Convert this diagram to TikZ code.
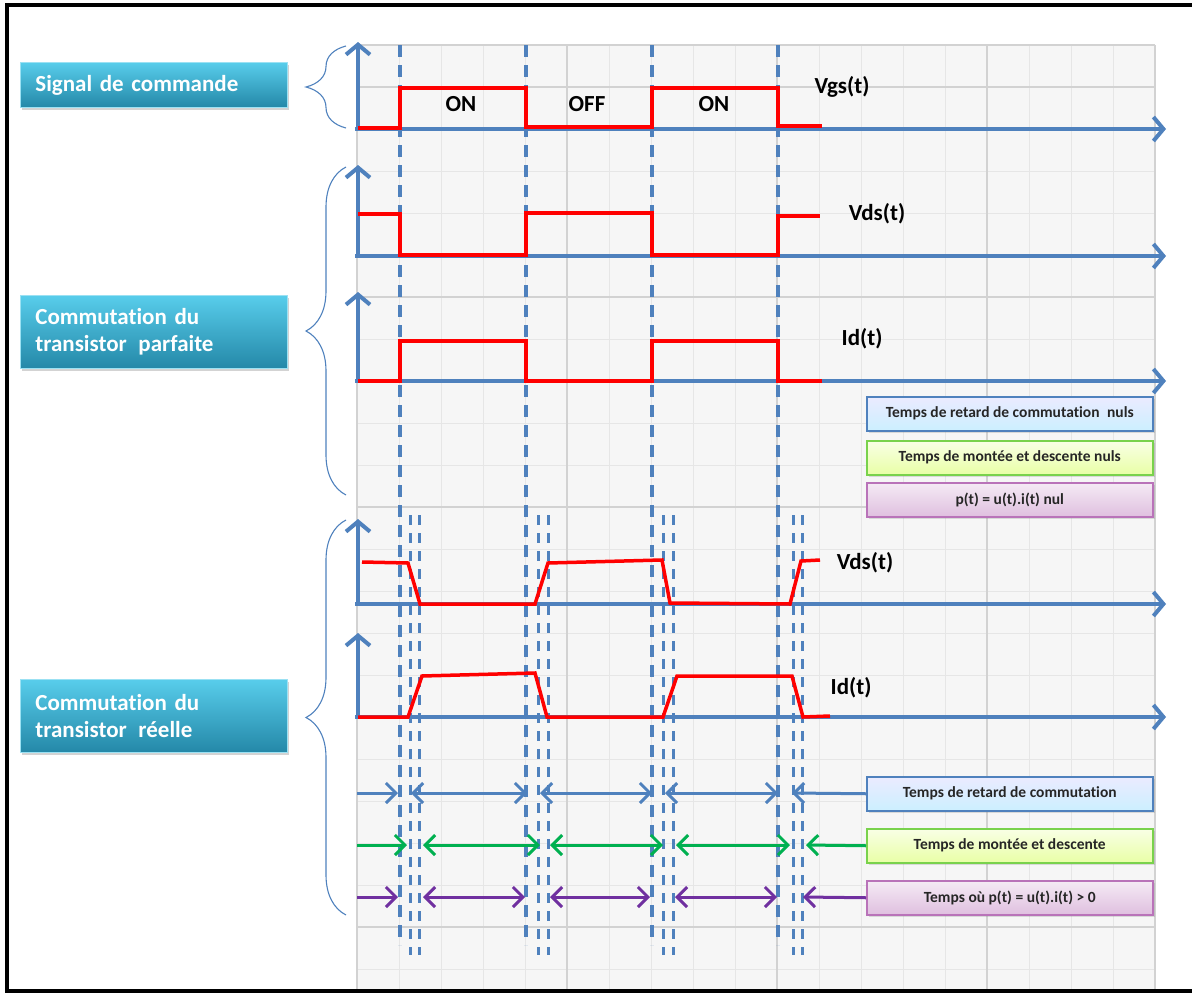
\documentclass[tikz,border=0pt]{standalone}
\usepackage{fontspec}
\setmainfont{Carlito}[Ligatures=NoCommon]
\usepackage{tikz}
\usetikzlibrary{arrows.meta,calc,positioning,decorations.pathreplacing,shadows}
\definecolor{axblue}{HTML}{4F81BD}
\definecolor{sigred}{HTML}{FF0000}
\definecolor{tgreen}{HTML}{00B050}
\definecolor{tpurple}{HTML}{7030A0}
\definecolor{gridmin}{HTML}{E6E6E6}
\definecolor{gridmaj}{HTML}{D2D2D2}
\definecolor{gridbg}{HTML}{F6F6F6}
\definecolor{tealtop}{HTML}{58CDEB}
\definecolor{tealbot}{HTML}{2488A8}
\tikzset{
  taxis/.style={axblue,line width=4pt,-{Straight Barb[length=10pt,width=24pt]}},
  sig/.style={sigred,line width=3.5pt,line join=miter},
  tline/.style={axblue,line width=3.2pt,dash pattern=on 12pt off 8pt},
  tpair/.style={axblue,line width=3pt,dash pattern=on 10pt off 8pt},
  sparr/.style={line width=3pt,{Straight Barb[length=10pt,width=20pt]}-{Straight Barb[length=10pt,width=20pt]}},
  onearr/.style={line width=3pt,-{Straight Barb[length=10pt,width=20pt]}},
  brc/.style={axblue,line width=1.1pt,decorate,decoration={brace,amplitude=40pt}},
  gmin/.style={gridmin,line width=1pt},
  gmaj/.style={gridmaj,line width=1.6pt},
  titlebox/.style={anchor=north west,top color=tealtop,bottom color=tealbot,
    draw=tealtop!60!white,line width=0.8pt,minimum width=267pt,text width=237pt,
    inner xsep=15pt,align=left,text=white,font=\fontsize{23}{27}\selectfont\bfseries,
    drop shadow={opacity=0.35,shadow xshift=2pt,shadow yshift=-3pt}},
  legbox/.style={anchor=north west,minimum width=286pt,minimum height=34pt,
    line width=1.5pt,text=black!85,font=\fontsize{15.5}{18}\selectfont\bfseries,
    drop shadow={opacity=0.25,shadow xshift=2pt,shadow yshift=-2pt}},
  legblue/.style={legbox,draw=axblue,top color=blue!8!white,bottom color=blue!30!cyan!20!white},
  leggreen/.style={legbox,draw=green!50!olive!70!white,top color=lime!10!white,bottom color=lime!35!white},
  legpurple/.style={legbox,draw=violet!55!white,top color=violet!8!white,bottom color=violet!25!white},
  siglbl/.style={font=\fontsize{23}{27}\selectfont\bfseries},
}

\begin{document}
\begin{tikzpicture}[x=1pt,y=-1pt]
\useasboundingbox (0,0) rectangle (1192,993);
% grid background
\fill[gridbg] (357,45) rectangle (1155,993);
\foreach \k in {0,...,19} \draw[gmin] ({357+42*\k},45) -- ({357+42*\k},993);
\foreach \k in {0,...,22} \draw[gmin] (357,{45+42*\k}) -- (1155,{45+42*\k});
\foreach \x in {357,567,777,987,1155} \draw[gmaj] (\x,45) -- (\x,993);
\foreach \y in {45,87,297,507,717,927} \draw[gmaj] (357,\y) -- (1155,\y);
% frame
\draw[black,line width=4pt] (7,5) rectangle (1196,991);

% left titles and braces
\node[titlebox,minimum height=45pt] (tcmd) at (20,62) {Signal de commande};
\node[titlebox,minimum height=73pt] (tparf) at (20,295) {Commutation du\\transistor\hspace{4pt} parfaite};
\node[titlebox,minimum height=73pt] (treel) at (20,679) {Commutation du\\transistor\hspace{4pt} réelle};
\draw[brc] (346,128) -- (346,46);
\draw[brc] (346,495) -- (346,167);
\draw[brc] (346,915) -- (346,520);

% switching instants
\foreach \x in {400,526,652,778} \draw[tline] (\x,45) -- (\x,945);
\foreach \x in {410,419,538,548,663,673,793,802} \draw[tpair] (\x,515) -- (\x,955);

% axes
\foreach \y/\t in {129/42,256/165,381/292,604/519,717/633} {
  \draw[taxis] (355,\y) -- (1166,\y);
  \draw[taxis] (358,\y) -- (358,\t);
}

% ideal signals
\draw[sig] (358,128) -- (400,128) -- (400,88) -- (526,88) -- (526,127) -- (652,127)
  -- (652,88) -- (778,88) -- (778,126) -- (822,126);
\draw[sig] (358,214) -- (400,214) -- (400,255) -- (526,255) -- (526,213) -- (652,213)
  -- (652,255) -- (778,255) -- (778,216) -- (820,216);
\draw[sig] (358,381) -- (400,381) -- (400,341) -- (526,341) -- (526,381) -- (652,381)
  -- (652,341) -- (778,341) -- (778,381) -- (822,381);
% real signals
\draw[sig] (362,562) -- (408,563) -- (420,604) -- (535,604) -- (548,563) -- (662,560)
  -- (670,603) -- (790,604) -- (801,561) -- (820,560);
\draw[sig] (358,717) -- (408,717) -- (422,676) -- (535,673) -- (547,717) -- (663,717)
  -- (677,676) -- (792,676) -- (803,717) -- (830,716);

% signal labels
\node[siglbl] (lon1) at (461,104) {ON};
\node[siglbl] (loff) at (587,104) {OFF};
\node[siglbl] (lon2) at (714,104) {ON};
\node[siglbl] (lvgs) at (842,87) {Vgs(t)};
\node[siglbl] (lvds) at (877,214) {Vds(t)};
\node[siglbl] (lid) at (862,339) {Id(t)};
\node[siglbl] (lvdsr) at (865,563) {Vds(t)};
\node[siglbl] (lidr) at (851,688) {Id(t)};

% legend, ideal case
\node[legblue] (li1) at (866,396) {Temps de retard de commutation\hspace{4pt} nuls};
\node[leggreen] (li2) at (866,440) {Temps de montée et descente nuls};
\node[legpurple] (li3) at (866,482) {p(t) = u(t).i(t) nul};
% legend, real case
\node[legblue] (lr1) at (866,776) {Temps de retard de commutation};
\node[leggreen] (lr2) at (866,828) {Temps de montée et descente};
\node[legpurple] (lr3) at (866,880) {Temps où p(t) = u(t).i(t) > 0};

% time spans
\foreach \i/\x in {0/357,1/398,2/411,3/527,4/540,5/652,6/665,7/778,8/792}
  \coordinate (b\i) at (\x,793);
\foreach \i/\x in {0/357,1/407,2/423,3/540,4/550,5/663,6/676,7/790,8/806}
  \coordinate (g\i) at (\x,845);
\foreach \i/\x in {0/357,1/398,2/423,3/525,4/550,5/650,6/675,7/777,8/803}
  \coordinate (p\i) at (\x,897);
\draw[onearr,axblue] (b0) -- (b1);
\draw[onearr,tgreen] (g0) -- (g1);
\draw[onearr,tpurple] (p0) -- (p1);
\foreach \a/\b in {2/3,4/5,6/7} {
  \draw[sparr,axblue] (b\a) -- (b\b);
  \draw[sparr,tgreen] (g\a) -- (g\b);
  \draw[sparr,tpurple] (p\a) -- (p\b);
}
\draw[onearr,axblue] (lr1.west) -- (b8);
\draw[onearr,tgreen] (lr2.west) -- (g8);
\draw[onearr,tpurple] (lr3.west) -- (p8);
\end{tikzpicture}
\end{document}
